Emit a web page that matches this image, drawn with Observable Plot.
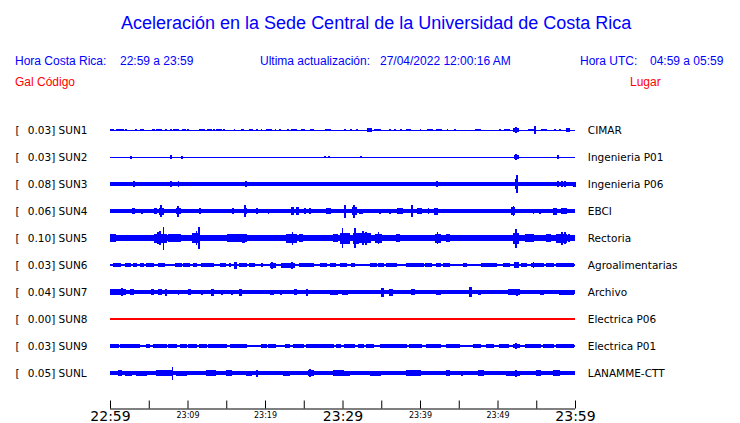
<!DOCTYPE html>
<html>
<head>
<meta charset="utf-8">
<script src="https://cdn.jsdelivr.net/npm/d3@7"></script>
<script src="https://cdn.jsdelivr.net/npm/@observablehq/plot@0.6"></script>
<style>
  html, body { margin: 0; padding: 0; background: #fff; }
  #wrap { width: 740px; position: relative; }
  #head { position: relative; width: 740px; height: 100px; font-family: "Liberation Sans", Arial, sans-serif; }
  #head div { position: absolute; line-height: 1; white-space: pre; }
  .blue { color: #0000ff; }
  .red { color: #ff0000; }
  svg { display: block; }
</style>
</head>
<body>
<div id="wrap">
  <div id="head">
    <div class="blue" style="left:121px; top:14px; font-size:18px;">Aceleración en la Sede Central de la Universidad de Costa Rica</div>
    <div class="blue" style="left:15px; top:55px; font-size:12px;">Hora Costa Rica:</div>
    <div class="blue" style="left:120px; top:55px; font-size:12px;">22:59 a 23:59</div>
    <div class="blue" style="left:260px; top:55px; font-size:12px;">Ultima actualización:</div>
    <div class="blue" style="left:380px; top:55px; font-size:12px;">27/04/2022 12:00:16 AM</div>
    <div class="blue" style="left:580px; top:55px; font-size:12px;">Hora UTC:</div>
    <div class="blue" style="left:650px; top:55px; font-size:12px;">04:59 a 05:59</div>
    <div class="red" style="left:15px; top:76px; font-size:12px;">Gal</div>
    <div class="red" style="left:37px; top:76px; font-size:12px;">Código</div>
    <div class="red" style="left:630px; top:76px; font-size:12px;">Lugar</div>
  </div>
  <div id="chart"></div>
</div>
<script>
// ---- data ----
const stations = ["SUN1","SUN2","SUN3","SUN4","SUN5","SUN6","SUN7","SUN8","SUN9","SUNL"];
const galValues = ["0.03","0.03","0.08","0.06","0.10","0.03","0.04","0.00","0.03","0.05"];
const places = ["CIMAR","Ingenieria P01","Ingenieria P06","EBCI","Rectoria","Agroalimentarias","Archivo","Electrica P06","Electrica P01","LANAMME-CTT"];
// background half-amplitude of each trace
const baseAmp = [0.5, 0.5, 1.8, 1.9, 2.8, 0.6, 1.6, 0.6, 0.9, 2.0];
// bursts: [start minute, end minute, half-amplitude]
const sun1 = [[0,0.5,1.3],[0.9,1.2,1.3],[1.4,1.7,1.3],[2.0,2.1,1.3],[3.35,3.45,1.3],[3.9,4.3,1.3],[5.45,5.7,1.3],[6.0,6.35,1.3],[6.5,6.6,1.3],[7.2,7.3,1.3],[7.75,7.95,1.3],[8.25,8.8,1.3],[9.4,9.7,1.3],[10.0,10.1,1.3],[11.5,12.25,1.3],[12.55,13.1,1.3],[13.4,13.5,1.3],[13.75,14.1,1.3],[14.3,14.4,1.3],[14.7,14.8,1.3],[16.0,16.1,1.3],[17.0,17.2,1.3],[17.95,18.4,1.3],[18.9,19.0,1.3],[19.5,19.6,1.3],[20.2,20.85,1.3],[21.3,21.4,1.3],[21.9,22.0,1.3],[22.9,23.0,1.3],[23.45,24.1,1.3],[24.7,24.8,1.3],[25.0,25.1,1.3],[25.9,26.3,1.3],[27.8,28.4,1.3],[30.2,30.35,1.3],[31.05,31.2,1.3],[31.8,31.9,1.3],[33.2,33.75,1.8],[34.1,34.85,1.3],[36.1,36.2,1.3],[36.75,36.85,1.3],[37.5,37.6,1.3],[38.3,38.8,1.3],[40.0,40.1,1.3],[40.95,41.65,1.3],[42.15,42.8,1.3],[43.5,43.6,1.3],[44.5,44.6,1.3],[47.1,47.75,1.3],[50.3,50.4,1.3],[50.95,51.6,1.3],[52.1,52.7,2.2],[52.3,52.4,2.8],[54.0,54.6,1.3],[54.8,54.9,3.6],[55.7,56.35,1.3],[57.4,57.5,1.3],[58.05,58.15,1.3],[58.9,59.3,1.8]];
const sun2 = [[2.65,2.75,1.5],[7.85,7.95,2],[9.25,9.35,1.5],[27.7,27.8,1.3],[28.25,28.35,1.3],[32.3,32.4,1.3],[52.15,52.7,2.2],[52.35,52.45,3.2],[57.75,57.85,2]];
const sun3 = [[3.0,3.1,3],[7.85,7.95,2.8],[8.8,8.9,3],[17.5,17.6,3],[42.15,42.25,3],[52.35,52.6,5],[52.45,52.55,8.7],[57.8,57.9,3],[58.25,58.35,3],[58.7,58.8,3],[59.8,60,2.5]];
const sun4 = [[2.9,3.15,3],[4.05,4.15,2.5],[5.8,6.0,3],[6.35,6.9,3.5],[6.55,6.65,6],[8.6,9.15,3.2],[8.75,8.85,5.5],[11.5,11.7,3.3],[15.8,15.9,3],[17.3,17.55,3.3],[17.4,17.5,6],[18.9,19.0,3],[20.4,20.5,2.5],[23.45,23.65,3.8],[24.0,24.3,3.8],[25.15,25.25,3],[25.8,25.9,3],[27.95,28.4,3],[30.2,30.45,4.5],[30.3,30.4,6.5],[31.3,31.75,4.2],[31.45,31.55,6.5],[32.25,32.6,2.5],[34.8,34.9,2.5],[36.1,36.2,2.5],[37.1,37.7,3.3],[38.85,39.05,4.5],[38.9,39.0,6],[39.65,40.2,3.3],[41.05,41.15,3],[41.9,42.25,3.5],[51.85,52.25,3.8],[52.0,52.1,4.8],[54.6,54.7,2.5],[55.45,55.55,2.5],[57.2,57.55,3.5],[58.2,58.85,3.2]];
const sun5 = [[0,0.65,3.8],[2.3,4.1,3.3],[5.8,7.3,4.5],[6.1,6.2,6],[6.4,6.5,7],[6.85,6.95,11.5],[7.5,9.05,4],[10.7,11.6,5],[11.1,11.2,7],[11.45,11.55,11],[15.2,17.65,3.6],[17.15,17.4,4.5],[22.8,24.1,4.5],[23.5,23.6,6.5],[24.5,24.9,3.6],[28.8,29.3,4.2],[29.7,30.95,5.5],[29.95,30.05,10],[31.4,32.05,5.5],[31.6,31.7,10],[32.25,33.55,5],[32.6,32.7,7],[33.0,33.1,6.5],[34.3,35.05,4.5],[34.6,34.7,6],[37.0,37.4,4.2],[41.95,42.6,4.5],[42.2,42.3,6],[43.45,43.85,3.6],[46.65,47.1,3.3],[52.05,52.7,5.5],[52.3,52.4,9.5],[53.55,54.6,3.6],[56.35,56.8,3.6],[57.55,58.95,4.5],[58.3,58.4,6.5],[58.7,58.8,6],[59.2,59.3,4]];
const sun6 = [[0.4,1.4,2.3],[2.05,2.65,2.3],[3.0,3.45,1.7],[3.95,4.3,1.7],[4.75,5.6,2],[6.25,7.0,2],[8.4,9.25,2.3],[9.45,10.3,2],[10.75,11.2,1.7],[11.85,13.35,2],[14.2,14.85,2],[15.45,15.55,1.7],[16.1,16.35,3.5],[16.75,17.65,1.7],[18.05,18.7,1.7],[19.55,19.65,1.7],[20.65,21.3,2.5],[20.85,20.95,3.5],[22.15,23.85,2.5],[23.4,23.5,3.5],[24.5,25.6,2],[25.8,26.25,1.7],[27.1,27.95,1.7],[28.4,29.05,2],[29.7,30.55,2],[31.2,31.6,2],[33.55,34.4,2.3],[34.6,35.25,1.7],[35.7,37.0,1.7],[38.3,40.45,2],[40.65,41.5,1.7],[42.15,42.6,2],[43.0,43.85,1.7],[45.6,46.0,2],[47.95,49.9,1.7],[50.75,51.6,2],[52.25,52.7,3],[53.1,53.75,1.7],[54.4,55.9,2.3],[54.6,54.7,3],[56.35,57.2,1.7],[57.65,59.8,2]];
const sun7 = [[0,0.65,3],[0.65,1.95,3.2],[1.5,1.6,4],[2.6,3.0,3],[5.4,5.6,3],[6.25,6.65,3],[7.1,7.3,3.5],[8.8,8.9,2.5],[10.1,10.4,3],[11.8,11.9,2.5],[13.1,13.3,3.5],[14.4,14.5,2.5],[15.7,15.8,2.5],[16.7,17.0,3.5],[19.1,19.2,2],[20.65,21.05,2.5],[21.95,22.15,2.5],[23.85,24.1,3],[25.3,25.45,3.5],[28.5,29.3,2.5],[30.05,30.6,2.5],[32.25,32.7,2],[35.05,35.35,4.5],[36.1,36.5,3.5],[38.9,39.35,3],[42.15,42.6,2.5],[46.45,46.65,5],[47.5,47.75,2.5],[51.4,52.9,2.8],[52.5,52.6,3.5],[55.5,55.9,2.5],[58.05,59.8,2.5]];
const sun8 = [];
const sun9 = [[0,1.05,1.7],[1.3,3.85,1.7],[4.75,5.15,1.7],[5.6,7.3,1.7],[7.5,8.6,1.7],[9.05,9.9,1.7],[10.1,11.2,1.7],[11.6,12.45,1.7],[12.7,15.05,1.7],[15.5,17.65,1.7],[19.55,20.2,1.7],[20.4,21.3,1.7],[22.6,23.2,1.7],[23.65,24.95,1.7],[25.4,27.1,1.7],[27.3,28.8,1.7],[29.25,29.7,1.7],[30.3,31.6,1.7],[32.05,32.7,1.7],[33.1,34.0,1.7],[34.85,38.3,1.7],[38.7,40.2,1.7],[40.85,42.6,1.7],[43.45,45.15,1.7],[46.9,47.75,1.7],[48.6,49.45,1.7],[50.3,51.4,1.7],[52.05,52.9,1.7],[52.35,52.45,3],[53.55,55.5,1.7],[55.9,57.2,1.7],[57.65,59.8,1.7]];
const sunl = [[1.05,1.5,3],[1.95,2.8,2.5],[3.45,4.75,2.5],[6.0,7.95,2.8],[8.0,8.1,6.5],[8.6,9.9,2.5],[12.5,13.55,2.8],[15.05,15.7,2.8],[17.65,18.3,2.5],[18.9,19.0,3.5],[22.35,23.2,2.5],[25.6,26.25,3],[25.8,25.9,4],[28.8,30.1,2.8],[29.7,30.95,2.5],[33.55,34.85,2.5],[38.3,40.0,2.8],[43.45,43.85,3],[45.35,45.45,2.5],[47.5,48.15,2.8],[51.2,52.9,2.5],[52.35,52.45,3.5],[55.05,55.5,2.8],[57.2,58.05,2.8]];
const bursts = [sun1, sun2, sun3, sun4, sun5, sun6, sun7, sun8, sun9, sunl];
// time axis (minutes after 22:59)
const tickMinutes = [0,5,10,15,20,25,30,35,40,45,50,55,60];
const labelMinutes = [0,10,20,30,40,50,60];
const labelTexts = ["22:59","23:09","23:19","23:29","23:39","23:49","23:59"];

// ---- layout ----
const ROW = 27;             // spacing between traces (y units)
const AXIS_Y = 9 * ROW + 35.5;
const colorOf = s => s === "SUN8" ? "#ff0000" : "#0000ff";

const rows = stations.map((s, i) => ({s, i, gal: galValues[i], place: places[i], base: baseAmp[i]}));
const events = rows.flatMap(r => bursts[r.i].map(([m1, m2, a]) => ({s: r.s, i: r.i, m1, m2, a})));
const labels = labelMinutes.map((m, k) => ({m, t: labelTexts[k], big: m % 30 === 0}));

const plot = Plot.plot({
  width: 740,
  height: 323,
  marginLeft: 110,
  marginRight: 165,
  marginTop: 30,
  marginBottom: 14.5,
  x: {domain: [0, 60], axis: null},
  y: {domain: [0, AXIS_Y], reverse: true, axis: null},
  style: {fontFamily: "DejaVu Sans", background: "white"},
  marks: [
    // continuous background band of each trace
    Plot.rect(rows, {x1: () => 0, x2: () => 60, y1: r => r.i * ROW - r.base, y2: r => r.i * ROW + r.base,
      fill: r => colorOf(r.s), shapeRendering: "crispEdges"}),
    // bursts
    Plot.rect(events, {x1: "m1", x2: "m2", y1: e => e.i * ROW - e.a, y2: e => e.i * ROW + e.a,
      fill: e => colorOf(e.s), insetLeft: -0.5, insetRight: -0.5, shapeRendering: "crispEdges"}),
    // left labels
    Plot.text(rows, {x: () => 0, y: r => r.i * ROW, text: () => "[", dx: -95, textAnchor: "start",
      lineAnchor: "middle", fontSize: 10.5, fill: "black"}),
    Plot.text(rows, {x: () => 0, y: r => r.i * ROW, text: r => `${r.gal}] ${r.s}`, dx: -82.7, textAnchor: "start",
      lineAnchor: "middle", fontSize: 10.5, fill: "black"}),
    // right labels
    Plot.text(rows, {x: () => 60, y: r => r.i * ROW, text: "place", dx: 12.3, textAnchor: "start",
      lineAnchor: "middle", fontSize: 10.5, fill: "black"}),
    // time axis
    Plot.ruleY([AXIS_Y], {x1: 0, x2: 60, stroke: "black", strokeWidth: 1}),
    Plot.ruleX(tickMinutes, {x: d => d, y1: AXIS_Y - 8, y2: AXIS_Y, stroke: "black", strokeWidth: 1}),
    Plot.text(labels.filter(d => d.big), {x: "m", y: () => AXIS_Y, text: "t", dy: 12, lineAnchor: "bottom",
      fontSize: 14, fill: "black"}),
    Plot.text(labels.filter(d => !d.big), {x: "m", y: () => AXIS_Y, text: "t", dy: 9, lineAnchor: "bottom",
      fontSize: 8, fill: "black"})
  ]
});
document.getElementById("chart").appendChild(plot);
</script>
</body>
</html>
